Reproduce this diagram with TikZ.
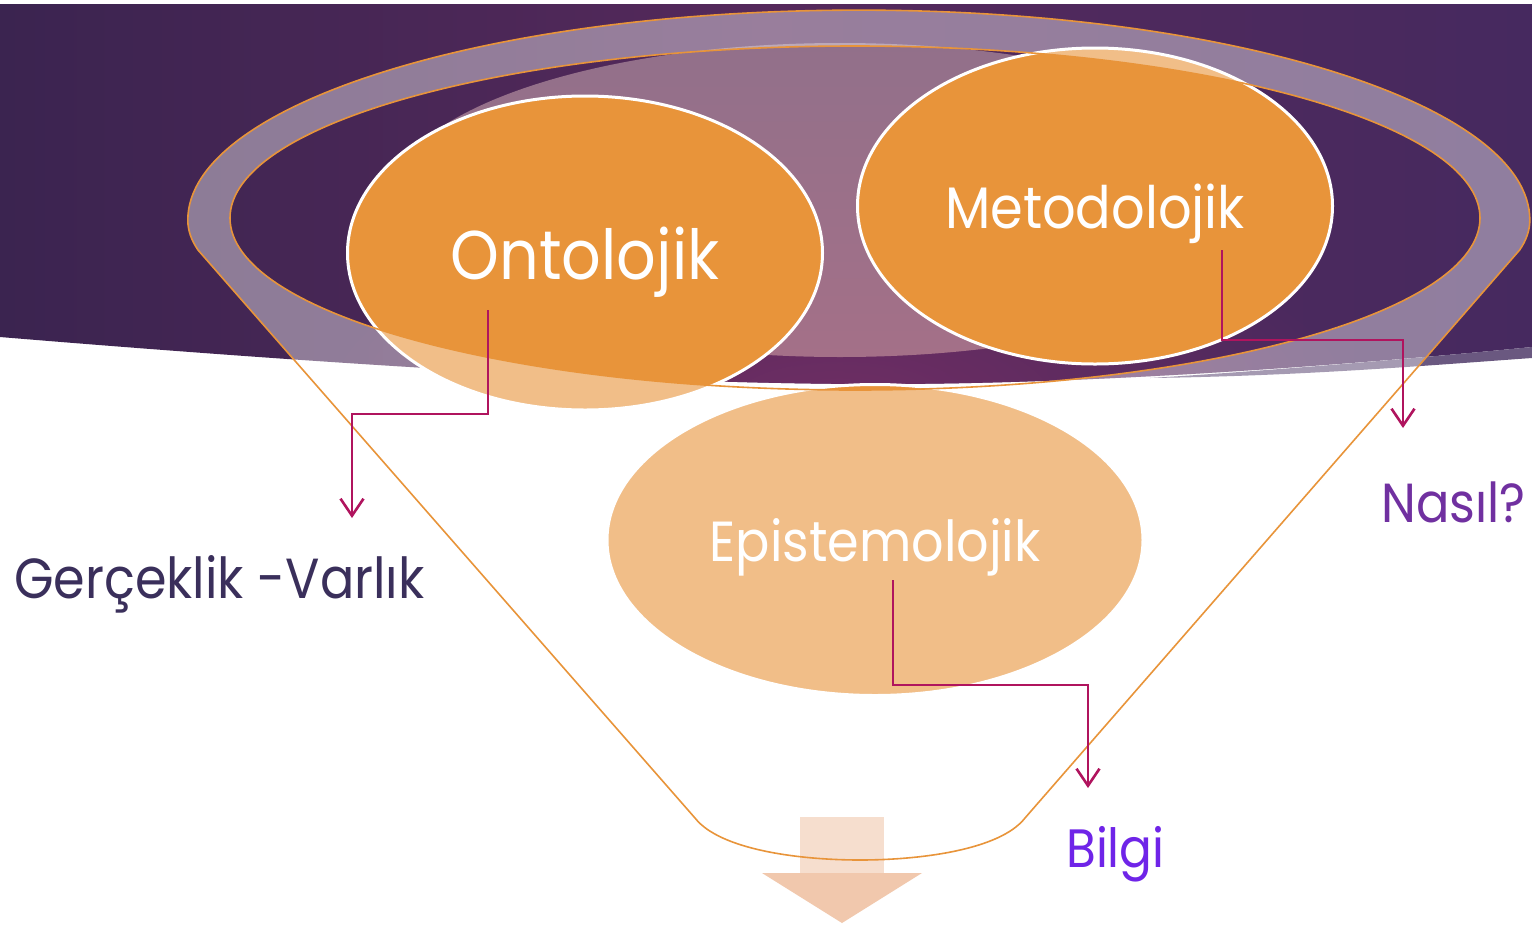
\documentclass[tikz,border=0pt]{standalone}
\usepackage{fontspec}
\setmainfont{Poppins}[FakeStretch=0.9]
\usetikzlibrary{shapes.geometric,arrows.meta,calc,fadings}

\definecolor{bandL}{HTML}{3B2450}
\definecolor{bandM}{HTML}{55295B}
\definecolor{bandR}{HTML}{46295F}
\definecolor{bandGlow}{HTML}{6E2E64}
\definecolor{bandEdge}{HTML}{6A5880}
\definecolor{mauveTop}{HTML}{92708A}
\definecolor{mauveBot}{HTML}{A47088}
\definecolor{ochre}{HTML}{E8943A}
\definecolor{linkMag}{HTML}{B0145E}
\definecolor{txtDark}{HTML}{3A2F5B}
\definecolor{txtHow}{HTML}{7030A0}
\definecolor{txtKnow}{HTML}{6F24E8}
\definecolor{arrowPale}{HTML}{F6DECE}
\definecolor{arrowPeach}{HTML}{F1C8AD}

\tikzfading[name=glowfade, inner color=transparent!0, outer color=transparent!100]

\begin{document}
\begin{tikzpicture}[x=1pt,y=-1pt,
  bubble/.style={ellipse, fill=ochre, draw=white, line width=3pt,
    inner sep=0pt, text=white, text depth=0pt,
    minimum width=475pt, minimum height=314pt},
  funnelline/.style={draw=ochre, line width=1.6pt},
  link/.style={draw=linkMag, line width=2.6pt,
    -{Straight Barb[length=17pt,width=23pt,line width=2.6pt]}},
  tag/.style={anchor=base west, inner sep=0pt}
]
\useasboundingbox (0,0) rectangle (1532,927);
\fill[white] (0,0) rectangle (1532,927);

% purple band across the top
\shade[left color=bandL, right color=bandR, middle color=bandM]
  (0,4) -- (1532,4) -- (1532,347)
  .. controls (1350,365) and (1100,384) .. (880,384)
  .. controls (650,384) and (350,366) .. (0,337) -- cycle;
\begin{scope}
  \clip (0,4) -- (1532,4) -- (1532,347)
    .. controls (1350,365) and (1100,384) .. (880,384)
    .. controls (650,384) and (350,366) .. (0,337) -- cycle;
  \fill[bandGlow, path fading=glowfade] (840,400) ellipse [x radius=520, y radius=190];
\end{scope}
\fill[bandEdge]
  (1532,347) .. controls (1400,360) and (1250,372) .. (1150,378)
  .. controls (1300,376) and (1420,366) .. (1532,358) -- cycle;

% inner back of the funnel
\shade[top color=mauveTop, bottom color=mauveBot]
  (840,200) ellipse [x radius=450, y radius=157];

% the three circles
\node[bubble] (onto) at (585,253)
  {\fontsize{69}{70}\selectfont Ontolojik};
\node[bubble, minimum height=316pt] (meto) at (1095,206)
  {\fontsize{58.5}{62}\selectfont Metodolojik};
\node[bubble, minimum width=536pt, minimum height=311pt] (epis) at (875,540)
  {\fontsize{56.5}{62}\selectfont Epistemolojik};

% translucent funnel body with the open mouth
\fill[white, fill opacity=0.4, even odd rule]
  (198,250) arc[start angle=170, end angle=180, x radius=671, y radius=172]
  arc[start angle=180, end angle=360, x radius=671, y radius=210]
  arc[start angle=0, end angle=10, x radius=671, y radius=172]
  -- (1025,818) .. controls (1000,850) and (920,860) .. (860,860)
  .. controls (800,860) and (720,850) .. (695,818) -- cycle
  (855,218) ellipse [x radius=625, y radius=172];

% outgoing arrow below the funnel
\fill[arrowPale] (800,817) rectangle (884,873);
\fill[arrowPeach] (762,873) -- (922,873) -- (842,923) -- cycle;

% funnel outlines
\draw[funnelline]
  (198,250) arc[start angle=170, end angle=180, x radius=671, y radius=172]
  arc[start angle=180, end angle=360, x radius=671, y radius=210]
  arc[start angle=0, end angle=10, x radius=671, y radius=172]
  -- (1025,818) .. controls (1000,850) and (920,860) .. (860,860)
  .. controls (800,860) and (720,850) .. (695,818) -- cycle;
\draw[funnelline] (855,218) ellipse [x radius=625, y radius=172];

% labels
\node[tag, text=txtDark, font=\fontsize{56.5}{60}\selectfont] (real) at (14,598) {Gerçeklik -Varlık};
\node[tag, text=txtHow, font=\fontsize{55}{58}\selectfont] (how) at (1381,522) {Nasıl?};
\node[tag, text=txtKnow, font=\fontsize{54}{58}\selectfont] (know) at (1066,867) {Bilgi};

% connectors
\coordinate (ontoTip) at (352,518);
\coordinate (metoTip) at (1403,428);
\coordinate (episTip) at (1088,788);
\draw[link] ($(onto)+(-97,57)$) -- ++(0,104) -| (ontoTip);
\draw[link] ($(meto)+(127,44)$) -- ++(0,90) -| (metoTip);
\draw[link] ($(epis)+(18,40)$) -- ++(0,105) -| (episTip);
\end{tikzpicture}
\end{document}
